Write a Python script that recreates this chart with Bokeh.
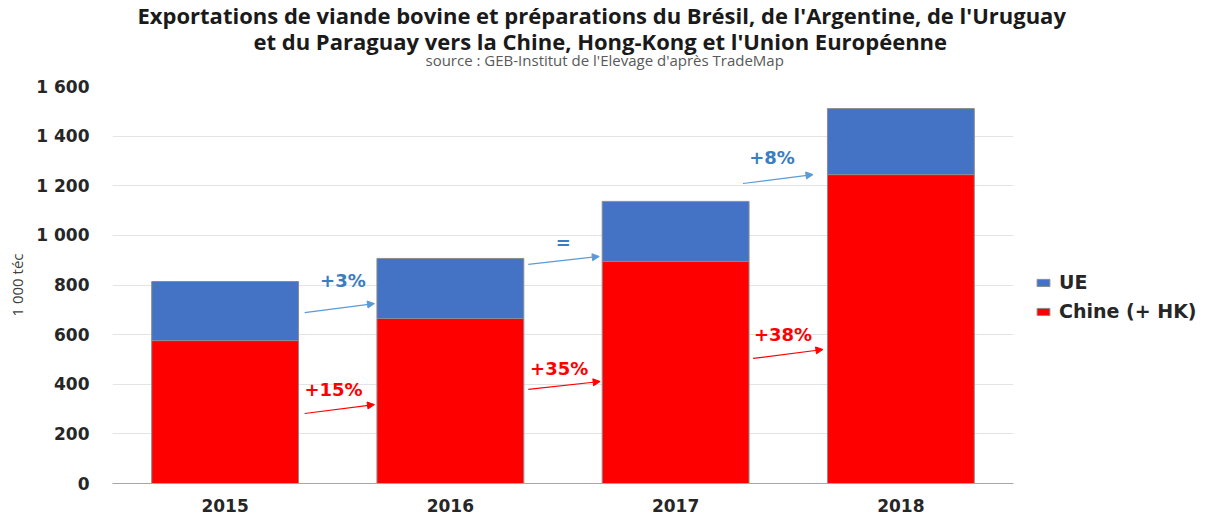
from bokeh.plotting import figure
from bokeh.models import (FactorRange, Range1d, FixedTicker, Legend, LegendItem,
                          Title, Arrow, NormalHead, Label)
from bokeh.embed import file_html
from bokeh.resources import INLINE

# ---- data ----
years = ["2015", "2016", "2017", "2018"]
chine = [576, 665, 895, 1245]
ue = [238, 242, 242, 266]
y_ticks = [0, 200, 400, 600, 800, 1000, 1200, 1400, 1600]

ue_labels = ["+3%", "=", "+8%"]
chine_labels = ["+15%", "+35%", "+38%"]

title_1 = "Exportations de viande bovine et préparations du Brésil, de l'Argentine, de l'Uruguay"
title_2 = "et du Paraguay vers la Chine, Hong-Kong et l'Union Européenne"
subtitle = "source : GEB-Institut de l'Elevage d'après TradeMap"

totals = [c + u for c, u in zip(chine, ue)]

RED = "#FF0000"
BLUE = "#4472C4"
BLUE_TXT = "#3A7DC0"
BLUE_ARW = "#5B9BD5"

p = figure(frame_width=901, frame_height=397, output_backend="svg", toolbar_location=None,
           x_range=FactorRange(*years, range_padding=0),
           y_range=Range1d(0, 1600),
           min_border_left=112, min_border_right=196, min_border_top=0,
           min_border_bottom=33)
p.outline_line_color = None
p.background_fill_color = "white"
p.border_fill_color = "white"

# bars
r_ch = p.vbar(x=years, top=chine, bottom=0, width=0.652, fill_color=RED,
              line_color="#8c8c8c", line_width=1)
r_ue = p.vbar(x=years, top=totals, bottom=chine, width=0.652, fill_color=BLUE,
              line_color="#8c8c8c", line_width=1)

# axes
p.yaxis.ticker = FixedTicker(ticks=y_ticks)
p.yaxis.major_label_overrides = {t: f"{t:,}".replace(",", " ") for t in y_ticks}
p.yaxis.major_label_text_font = "DejaVu Sans"
p.yaxis.major_label_text_font_style = "bold"
p.yaxis.major_label_text_font_size = "17px"
p.yaxis.major_label_text_color = "#262626"
p.yaxis.axis_line_color = None
p.yaxis.major_tick_line_color = None
p.yaxis.minor_tick_line_color = None
p.yaxis.major_label_standoff = 17
p.yaxis.axis_label = "1 000 téc"
p.yaxis.axis_label_text_font = "Open Sans"
p.yaxis.axis_label_text_font_style = "normal"
p.yaxis.axis_label_text_font_size = "15px"
p.yaxis.axis_label_text_color = "#404040"
p.yaxis.axis_label_standoff = 6

p.xaxis.major_label_text_font = "DejaVu Sans"
p.xaxis.major_label_text_font_style = "bold"
p.xaxis.major_label_text_font_size = "17px"
p.xaxis.major_label_text_color = "#262626"
p.xaxis.axis_line_color = "#a6a6a6"
p.xaxis.major_tick_line_color = None
p.xaxis.minor_tick_line_color = None
p.xaxis.major_label_standoff = 9

p.xgrid.grid_line_color = None
p.ygrid.grid_line_color = "#e4e4e4"
p.ygrid.grid_line_width = 1

# titles (first added is closest to the plot)
p.add_layout(Title(text=" ", text_font_size="1px", standoff=17), "above")
p.add_layout(Title(text=subtitle, align="left", text_font="Open Sans",
                   text_font_style="normal", text_font_size="15px",
                   text_color="#595959", offset=313, standoff=-7), "above")
p.add_layout(Title(text=title_2, align="left", text_font="Open Sans",
                   text_font_style="bold", text_font_size="22px",
                   text_color="#1a1a1a", offset=141, standoff=-8), "above")
p.add_layout(Title(text=title_1, align="left", text_font="Open Sans",
                   text_font_style="bold", text_font_size="22px",
                   text_color="#1a1a1a", offset=25, standoff=-5), "above")

# growth annotations (synthetic x: category i centre = i + 0.5)
ue_txt_pos = [(1.023, 818), (2.001, 971), (2.928, 1314)]
ue_arr_pos = [(0.853, 689, 1.163, 725), (1.846, 883, 2.161, 915), (2.799, 1209, 3.110, 1245)]
ch_txt_pos = [(0.981, 379), (1.983, 463), (2.977, 600)]
ch_arr_pos = [(0.853, 282, 1.163, 318), (1.846, 379, 2.165, 411), (2.844, 504, 3.154, 540)]

for lab, (tx, ty), (x0, y0, x1, y1) in zip(ue_labels, ue_txt_pos, ue_arr_pos):
    p.add_layout(Label(x=tx, y=ty, text=lab, text_align="center", text_baseline="middle",
                       text_font="DejaVu Sans", text_font_style="bold",
                       text_font_size="18px", text_color=BLUE_TXT))
    p.add_layout(Arrow(x_start=x0, y_start=y0, x_end=x1, y_end=y1,
                       line_color=BLUE_ARW, line_width=1.2,
                       end=NormalHead(size=7, fill_color=BLUE_ARW, line_color=BLUE_ARW)))

for lab, (tx, ty), (x0, y0, x1, y1) in zip(chine_labels, ch_txt_pos, ch_arr_pos):
    p.add_layout(Label(x=tx, y=ty, text=lab, text_align="center", text_baseline="middle",
                       text_font="DejaVu Sans", text_font_style="bold",
                       text_font_size="18px", text_color=RED))
    p.add_layout(Arrow(x_start=x0, y_start=y0, x_end=x1, y_end=y1,
                       line_color=RED, line_width=1.2,
                       end=NormalHead(size=7, fill_color=RED, line_color=RED)))

legend = Legend(items=[LegendItem(label="UE", renderers=[r_ue]),
                       LegendItem(label="Chine (+ HK)", renderers=[r_ch])],
                location=(22, 161), padding=0, margin=0, spacing=7,
                glyph_width=16, glyph_height=9, label_standoff=8,
                label_text_font="DejaVu Sans", label_text_font_style="bold",
                label_text_font_size="19px", label_text_color="#262626",
                border_line_color=None, background_fill_alpha=0)
p.add_layout(legend, "right")

open("out.html", "w").write(file_html(p, INLINE))
